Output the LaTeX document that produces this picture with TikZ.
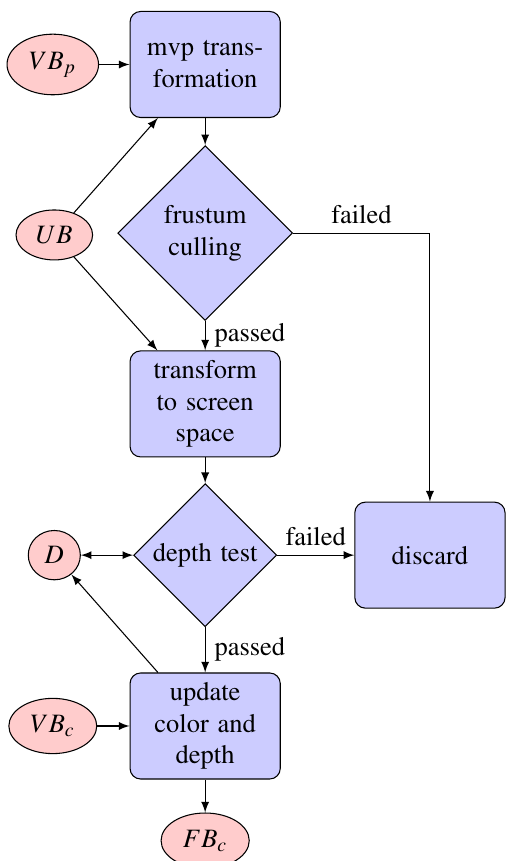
\documentclass[tikz,border=0pt]{standalone}
\usepackage[T1]{fontenc}
\usepackage{mathptmx}
\usetikzlibrary{shapes.geometric}

\begin{document}
\begin{tikzpicture}[>=latex,
  blocco/.style={rectangle, draw, fill=blue!20, text width=5em, align=center,
    rounded corners, minimum height=4em},
  scelta/.style={diamond, draw, fill=blue!20, text width=4.5em, align=center,
    inner sep=0pt},
  dato/.style={ellipse, draw, fill=red!20}]

\useasboundingbox (-2.72,0.855) rectangle (3.98,-10.56);

% Blocchi principali
\node[blocco] (mvp) at (0,0) {mvp trans-\\formation};
\node[scelta] (frustum) at (0,-2.235) {frustum\\culling};
\node[blocco] (screen) at (0,-4.5) {transform\\to screen\\space};
\node[scelta] (depth) at (0,-6.505) {depth test};
\node[blocco] (discard) at (2.98,-6.505) {discard};
\node[blocco] (update) at (0,-8.77) {update\\color and\\depth};

% Buffer
\node[dato] (VBp) at (-2.02,0) {$VB_p$};
\node[dato] (UB) at (-2.0,-2.26) {$UB$};
\node[dato] (D) at (-2.0,-6.505) {$D$};
\node[dato] (VBc) at (-2.02,-8.77) {$VB_c$};
\node[dato] (FBc) at (0,-10.29) {$FB_c$};

% Flusso principale
\draw[->] (mvp) -- (frustum);
\draw[->] (frustum) -- node[right] {passed} (screen);
\draw[->] (screen) -- (depth);
\draw[->] (depth) -- node[right] {passed} (update);
\draw[->] (update) -- (FBc);

% Scarti
\draw[->] (frustum) -| node[pos=0.25, above] {failed} (discard);
\draw[->] (depth) -- node[above] {failed} (discard);

% Ingressi e uscite dei buffer
\draw[->] (VBp) -- (mvp);
\draw[->] (UB) -- (mvp);
\draw[->] (UB) -- (screen);
\draw[<->] (D) -- (depth);
\draw[->] (update) -- (D);
\draw[->] (VBc) -- (update);

\end{tikzpicture}
\end{document}
